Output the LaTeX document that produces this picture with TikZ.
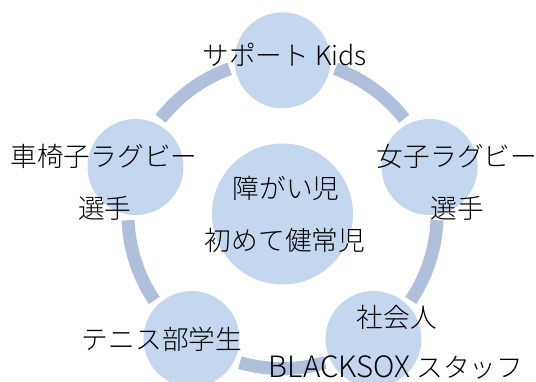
\documentclass[tikz,border=0pt]{standalone}
\usepackage{fontspec}
\setmainfont[UprightFont={* Light}]{Noto Sans CJK JP}
\usetikzlibrary{calc}
\definecolor{nodeblue}{HTML}{C5D7EF}
\definecolor{ringblue}{HTML}{B0C0DC}
\tikzset{
  disc/.style={circle,fill=nodeblue,draw=none,minimum size=96pt,inner sep=0pt},
  bigdisc/.style={circle,fill=nodeblue,draw=none,minimum size=141pt,inner sep=0pt},
  lab/.style={font=\fontsize{26.7pt}{30pt}\selectfont,text=black,inner sep=0pt,anchor=center},
  ring/.style={ringblue,line width=13pt}
}
\begin{document}
\begin{tikzpicture}[x=1pt,y=-1pt]
\useasboundingbox (0,0) rectangle (536,382);
\coordinate (c) at (282.5,214);
\foreach \a/\b in {-70/-38,2.3/34,74/106,146/177.7,218/250}{
  \draw[ring] ($(c)+({154.6*cos(\a)},{154.6*sin(\a)})$) arc[start angle=\a,end angle=\b,radius=154.6];
}
\node[disc] (top) at (282.5,60.3) {};
\node[disc] (right) at (429.6,167) {};
\node[disc] (br) at (373.5,339) {};
\node[disc] (bl) at (191.5,339) {};
\node[disc] (left) at (135.5,167) {};
\node[bigdisc] (mid) at (282.5,214) {};
\node[lab] (t1) at (284.8,55) {サポート Kids};
\node[lab] (r1) at (457,156.5) {女子ラグビー};
\node[lab] (r2) at (457.6,208.5) {選手};
\node[lab] (b1) at (396.7,317.5) {社会人};
\node[lab] (b2) at (396,367.5) {{\fontsize{29.4pt}{30pt}\selectfont BLACKSOX} スタッフ};
\node[lab] (a1) at (162,339.5) {テニス部学生};
\node[lab] (l1) at (104,156.5) {車椅子ラグビー};
\node[lab] (l2) at (104.7,208.5) {選手};
\node[lab] (m1) at (286,188.5) {障がい児};
\node[lab] (m2) at (285,240.5) {初めて健常児};
\end{tikzpicture}
\end{document}
